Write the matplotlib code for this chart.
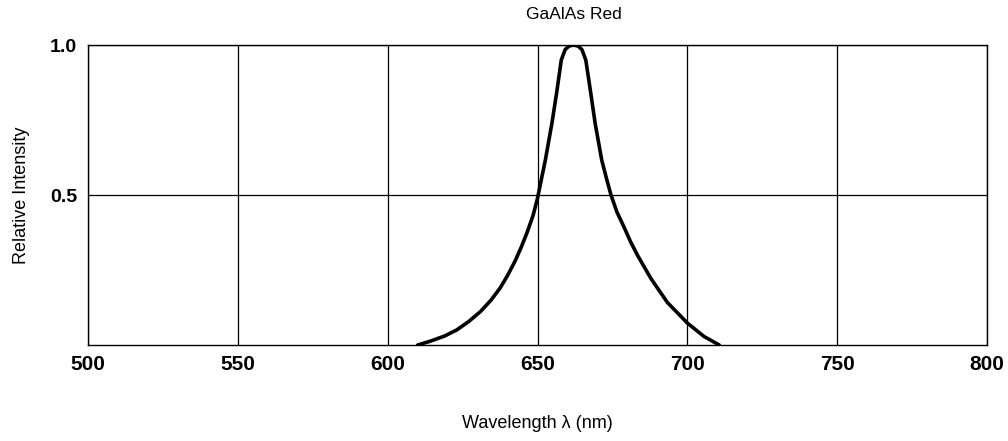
import matplotlib.pyplot as plt

# spectrum
wavelength = [610, 614, 619, 623, 627, 631, 634.5, 637.5, 640, 642.5, 644.5,
              646.5, 648.5, 650, 652.6, 654.8, 656.5, 657.9, 659.2, 660.5, 662,
              663.5, 664.8, 666.1, 667.6, 669.2, 671.4, 673, 674.5, 676.5,
              678.9, 681, 683.3, 687.8, 693.3, 700, 705.6, 710.6]
intensity = [0.0, 0.012, 0.03, 0.05, 0.078, 0.112, 0.15, 0.19, 0.232, 0.28, 0.325,
             0.375, 0.432, 0.49, 0.617, 0.74, 0.85, 0.95, 0.985, 0.997, 1.0,
             0.997, 0.985, 0.95, 0.85, 0.74, 0.617, 0.555, 0.5, 0.443,
             0.392, 0.345, 0.3, 0.222, 0.142, 0.073, 0.028, 0.0]

xticks = [500, 550, 600, 650, 700, 750, 800]
yticks = [0.5, 1.0]

plt.rcParams['font.family'] = ['Liberation Sans', 'DejaVu Sans']

fig = plt.figure(figsize=(10.08, 4.41), dpi=100)
ax = fig.add_axes([0.0873, 0.2177, 0.892, 0.680])

ax.plot(wavelength, intensity, color='black', linewidth=2.6,
        solid_joinstyle='round', solid_capstyle='round')

ax.set_xlim(500, 800)
ax.set_ylim(0, 1.0)
ax.set_xticks(xticks)
ax.set_yticks(yticks)
ax.set_xticklabels([str(t) for t in xticks], fontsize=15, fontweight='bold')
ax.set_yticklabels(['0.5', '1.0'], fontsize=14, fontweight='bold')
ax.tick_params(axis='both', length=0)
ax.tick_params(axis='x', pad=7)
ax.tick_params(axis='y', pad=8)
ax.grid(True, color='black', linewidth=0.9)
for s in ax.spines.values():
    s.set_linewidth(1.0)

ax.set_xlabel('Wavelength λ (nm)', fontsize=13, labelpad=30)
ax.set_ylabel('Relative Intensity', fontsize=13, labelpad=14)
ax.set_title('GaAlAs Red', fontsize=12.5, x=0.54, pad=19)

plt.savefig('out.png', dpi=100)
plt.close()
